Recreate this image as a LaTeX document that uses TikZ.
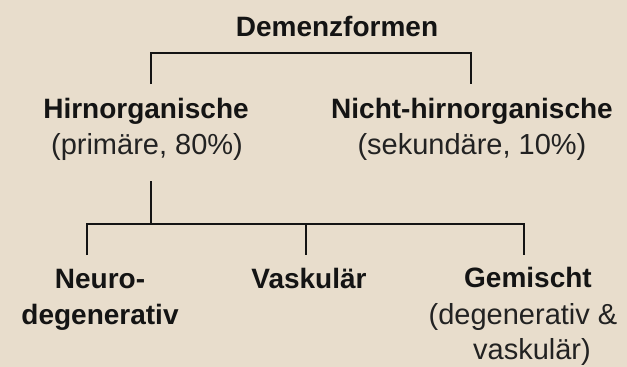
\documentclass[tikz,border=0pt]{standalone}
\usepackage{fontspec}
\setmainfont{Liberation Sans}
\definecolor{bg}{HTML}{E8DDCC}
\definecolor{ink}{HTML}{141414}
\definecolor{inklight}{HTML}{222222}
\begin{document}
\begin{tikzpicture}[x=1pt,y=-1pt,
  boldlbl/.style={font=\fontsize{28}{30}\selectfont\bfseries, text=ink, anchor=base, inner sep=0pt},
  lightlbl/.style={font=\fontsize{29}{31}\selectfont, text=inklight, anchor=base, inner sep=0pt},
  link/.style={draw=ink, line width=1.9pt, line join=miter}]
\fill[bg] (0,0) rectangle (627,367);
\useasboundingbox (0,0) rectangle (627,367);

\node[boldlbl] (root) at (337,36) {Demenzformen};
\node[boldlbl] (hirn) at (146,118) {Hirnorganische};
\node[lightlbl] (hirnsub) at (147,154) {(primäre, 80\%)};
\node[boldlbl] (nicht) at (472,118) {Nicht-hirnorganische};
\node[lightlbl] (nichtsub) at (472,154) {(sekundäre, 10\%)};
\node[boldlbl] (neuroA) at (100,288) {Neuro-};
\node[boldlbl] (neuroB) at (100,324) {degenerativ};
\node[boldlbl] (vask) at (309,288) {Vaskulär};
\node[boldlbl] (gem) at (528,287) {Gemischt};
\node[lightlbl] (gemA) at (523,324) {(degenerativ \&};
\node[lightlbl] (gemB) at (532,359) {vaskulär)};

\coordinate (topL) at (151,53);
\coordinate (topR) at (471,53);
\coordinate (hirnTop) at (151,84);
\coordinate (nichtTop) at (471,84);
\coordinate (hirnBot) at (151,181);
\coordinate (split) at (151,224);
\coordinate (splitL) at (87,224);
\coordinate (splitM) at (306,224);
\coordinate (splitR) at (524,224);
\coordinate (neuroTop) at (87,255);
\coordinate (vaskTop) at (306,255);
\coordinate (gemTop) at (524,255);

\draw[link] (hirnTop) -- (topL) -- (topR) -- (nichtTop);
\draw[link] (hirnBot) -- (split);
\draw[link] (neuroTop) -- (splitL) -- (splitR) -- (gemTop);
\draw[link] (splitM) -- (vaskTop);
\end{tikzpicture}
\end{document}
